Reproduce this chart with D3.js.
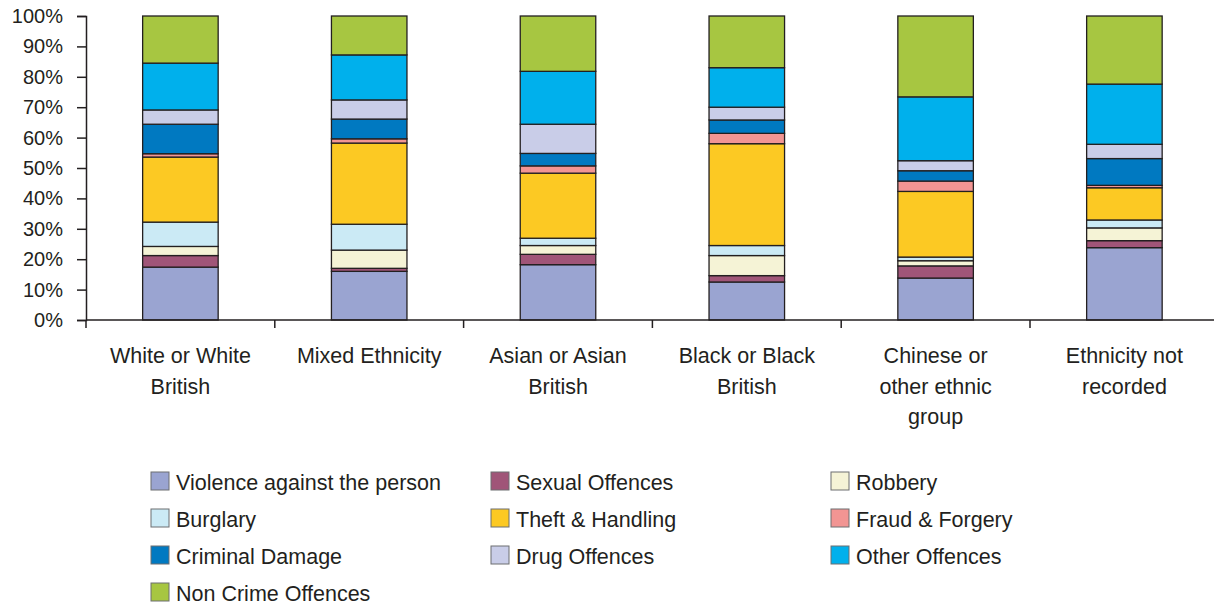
<!DOCTYPE html>
<html>
<head>
<meta charset="utf-8">
<script src="https://cdn.jsdelivr.net/npm/d3@7"></script>
<style>
  html, body { margin: 0; padding: 0; background: #fff; }
  svg { display: block; font-family: "Liberation Sans", Arial, sans-serif; }
</style>
</head>
<body>
<svg id="chart" width="1214" height="606"></svg>
<script>
// Ethnic groups (x axis), with their wrapped label lines
const categories = [
  "White or White British", "Mixed Ethnicity", "Asian or Asian British",
  "Black or Black British", "Chinese or other ethnic group", "Ethnicity not recorded"
];
const categoryLines = [
  ["White or White", "British"],
  ["Mixed Ethnicity"],
  ["Asian or Asian", "British"],
  ["Black or Black", "British"],
  ["Chinese or", "other ethnic", "group"],
  ["Ethnicity not", "recorded"]
];

// Offence types, stacked bottom to top
const offences = [
  "Violence against the person", "Sexual Offences", "Robbery", "Burglary",
  "Theft & Handling", "Fraud & Forgery", "Criminal Damage", "Drug Offences",
  "Other Offences", "Non Crime Offences"
];
const colors = [
  "#9aa4d1", "#a05578", "#f5f3d6", "#cbeaf5", "#fcc923",
  "#f29593", "#0079c1", "#c9cde8", "#00b0ec", "#a7c641"
];

// Share of each offence type (%) per ethnic group, same order as categories
const violence = [17.4, 16.0, 18.2, 12.5, 13.8, 23.8];
const sexual   = [ 3.8,  1.0,  3.4,  2.1,  4.0,  2.3];
const robbery  = [ 3.0,  6.0,  2.9,  6.6,  1.7,  4.2];
const burglary = [ 8.0,  8.5,  2.4,  3.3,  1.2,  2.6];
const theft    = [21.4, 26.7, 21.4, 33.5, 21.6, 10.6];
const fraud    = [ 1.1,  1.4,  2.4,  3.4,  3.4,  0.8];
const criminal = [ 9.7,  6.5,  4.1,  4.4,  3.4,  8.8];
const drug     = [ 4.7,  6.3,  9.6,  4.2,  3.3,  4.7];
const other    = [15.4, 14.8, 17.4, 13.0, 21.0, 19.8];
const nonCrime = [15.5, 12.8, 18.2, 17.0, 26.6, 22.4];

const series = [violence, sexual, robbery, burglary, theft, fraud, criminal, drug, other, nonCrime];
const yTicks = [0, 10, 20, 30, 40, 50, 60, 70, 80, 90, 100];

const rows = categories.map((c, i) => {
  const r = { category: c };
  offences.forEach((o, k) => { r[o] = series[k][i]; });
  return r;
});

const svg = d3.select("#chart");
const ink = "#231f20";
const x0 = 86, y0 = 320, yTop = 16, band = 188.8;

const x = d3.scaleBand().domain(categories).range([x0, x0 + band * categories.length])
  .paddingInner(0.6).paddingOuter(0.3);
const y = d3.scaleLinear().domain([0, 100]).range([y0, yTop]);
const color = d3.scaleOrdinal().domain(offences).range(colors);

const stack = d3.stack().keys(offences);
const stacked = stack(rows);

// Stacked bars
svg.append("g").selectAll("g")
  .data(stacked)
  .join("g")
  .attr("fill", d => color(d.key))
  .selectAll("rect")
  .data(d => d)
  .join("rect")
  .attr("x", d => x(d.data.category))
  .attr("width", x.bandwidth())
  .attr("y", d => y(d[1]))
  .attr("height", d => y(d[0]) - y(d[1]))
  .attr("stroke", ink)
  .attr("stroke-width", 1.3);

// Y axis
const yAxis = svg.append("g")
  .attr("transform", `translate(${x0},0)`)
  .call(d3.axisLeft(y).tickValues(yTicks).tickFormat(d => d + "%").tickSize(9).tickPadding(14));
yAxis.select(".domain").attr("stroke", ink).attr("stroke-width", 1.5);
yAxis.selectAll(".tick line").attr("stroke", ink).attr("stroke-width", 1.5);
yAxis.selectAll(".tick text").attr("fill", ink).style("font-size", "20px");

// X axis baseline with category dividers
const xAxis = svg.append("g");
xAxis.append("line")
  .attr("x1", x0).attr("x2", 1214).attr("y1", y0).attr("y2", y0)
  .attr("stroke", ink).attr("stroke-width", 1.5);
const dividers = d3.range(categories.length + 1).map(i => x.step() * i + x.range()[0]);
xAxis.selectAll("line.div")
  .data(dividers)
  .join("line")
  .attr("class", "div")
  .attr("x1", d => d).attr("x2", d => d)
  .attr("y1", y0).attr("y2", y0 + 8)
  .attr("stroke", ink).attr("stroke-width", 1.5);

// Category labels
const labels = svg.append("g").selectAll("text")
  .data(categories)
  .join("text")
  .attr("text-anchor", "middle")
  .attr("fill", ink)
  .style("font-size", "21.5px")
  .attr("transform", d => `translate(${x(d) + x.bandwidth() / 2},363)`);
labels.selectAll("tspan")
  .data((d, i) => categoryLines[i])
  .join("tspan")
  .attr("x", 0)
  .attr("y", (d, j) => j * 30.5)
  .text(d => d);

// Legend: three columns, filled row by row
const legendCols = [151, 491, 831];
const legend = svg.append("g").selectAll("g")
  .data(offences)
  .join("g")
  .attr("transform", (d, i) => `translate(${legendCols[i % 3]},${472 + Math.floor(i / 3) * 37})`);
legend.append("rect")
  .attr("width", 18).attr("height", 18)
  .attr("fill", d => color(d))
  .attr("stroke", "#6d6e71").attr("stroke-width", 1);
legend.append("text")
  .attr("x", 25).attr("y", 17.5)
  .attr("fill", ink)
  .style("font-size", "21.5px")
  .text(d => d);
</script>
</body>
</html>
